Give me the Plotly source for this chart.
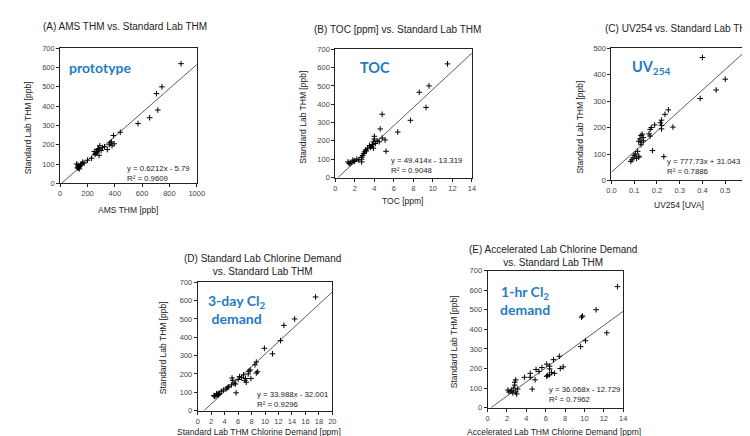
import plotly.graph_objects as go

W, H = 750, 436

# ---------------- data ----------------
# (A) AMS THM [ppb] vs Standard Lab THM [ppb]
a_x = [885, 745, 705, 715, 655, 570, 440, 390, 395, 375, 365, 360, 380, 345, 325, 310, 300, 290, 285, 275,
       270, 265, 260, 255, 250, 280, 230, 200, 175, 165, 150, 145, 140, 135, 130, 125, 120, 130, 140, 155]
a_y = [620, 500, 465, 380, 340, 310, 265, 248, 205, 215, 210, 200, 195, 175, 190, 185, 170, 195, 145, 175,
       165, 160, 155, 150, 165, 180, 130, 120, 105, 110, 95, 90, 85, 80, 85, 80, 100, 95, 75, 100]
a_fit = (0.6212, -5.79)

# (B) TOC [ppm]
b_x = [11.5, 9.6, 8.6, 9.3, 7.7, 6.4, 4.8, 4.6, 5.2, 5.1, 4.8, 4.0, 4.0, 4.3, 3.9, 3.8, 3.7, 3.6, 3.5, 3.9,
       4.1, 3.3, 3.1, 2.9, 3.0, 2.8, 2.7, 2.7, 2.7, 2.4, 2.2, 2.0, 1.8, 1.6, 1.5, 1.3, 1.4, 1.9, 3.2, 4.5]
b_y = [620, 500, 465, 382, 312, 248, 345, 265, 143, 205, 215, 225, 210, 200, 195, 180, 170, 165, 175, 160,
       185, 160, 150, 130, 140, 120, 110, 100, 85, 95, 100, 90, 95, 80, 75, 85, 78, 88, 145, 195]
b_fit = (49.414, -13.319)

# (C) UV254 [UVA]
c_x = [0.40, 0.50, 0.46, 0.39, 0.27, 0.25, 0.235, 0.23, 0.18, 0.215, 0.22, 0.22, 0.19, 0.175, 0.17, 0.165,
       0.14, 0.135, 0.13, 0.125, 0.12, 0.13, 0.13, 0.115, 0.105, 0.12, 0.11, 0.095, 0.09, 0.085, 0.12, 0.10,
       0.14, 0.22, 0.17]
c_y = [465, 383, 342, 310, 202, 267, 250, 90, 113, 218, 228, 195, 210, 200, 193, 176,
       162, 175, 170, 157, 148, 135, 145, 110, 100, 92, 83, 86, 78, 72, 88, 95,
       150, 208, 168]
c_fit = (777.73, 31.043)

# (D) Standard Lab THM Chlorine Demand [ppm]
d_x = [17.5, 14.4, 12.8, 12.3, 11.1, 9.9, 8.7, 8.5, 7.6, 7.8, 8.7, 8.9, 7.9, 7.0, 7.1, 7.2, 6.8, 6.5, 6.0, 5.7,
       5.1, 5.2, 5.4, 5.6, 5.0, 4.6, 4.2, 3.8, 3.5, 3.2, 3.0, 2.9, 2.7, 2.5, 2.4, 2.8, 3.1, 6.2, 7.5, 4.4]
d_y = [620, 500, 465, 382, 310, 340, 265, 250, 215, 222, 205, 212, 175, 165, 175, 155, 195, 180, 170, 97,
       178, 165, 150, 145, 140, 130, 118, 112, 105, 95, 90, 85, 80, 78, 82, 92, 88, 185, 200, 125]
d_fit = (33.988, -32.001)

# (E) Accelerated Lab THM Chlorine Demand [ppm]
e_x = [13.4, 11.2, 9.8, 9.7, 12.3, 10.1, 9.6, 7.4, 6.8, 7.8, 7.5, 6.9, 6.1, 6.4, 6.4, 6.2, 6.1, 6.4, 5.6, 5.0,
       4.4, 4.4, 4.9, 3.8, 4.6, 2.9, 2.8, 2.8, 2.7, 2.9, 2.4, 2.1, 2.2, 2.6, 3.0, 3.1, 2.5, 5.3, 6.6]
e_y = [618, 500, 468, 462, 382, 342, 312, 262, 245, 208, 200, 175, 222, 212, 198, 165, 160, 168, 205, 195,
       175, 155, 142, 155, 95, 142, 130, 115, 100, 80, 85, 90, 80, 75, 70, 95, 88, 185, 180]
e_fit = (36.068, -12.729)

panels = [
    dict(x=a_x, y=a_y, fit=a_fit, xr=[0, 1000], xd=200, yr=[0, 700], dx=(48, 187), dy=(37, 175), fmt=None),
    dict(x=b_x, y=b_y, fit=b_fit, xr=[0, 14], xd=2, yr=[0, 700], dx=(328, 467), dy=(38, 169), fmt=None),
    dict(x=c_x, y=c_y, fit=c_fit, xr=[0, 0.6], xd=0.1, yr=[0, 500], dx=(609, 748), dy=(37, 172), fmt=".1f"),
    dict(x=d_x, y=d_y, fit=d_fit, xr=[0, 20], xd=2, yr=[0, 700], dx=(188, 325), dy=(276, 407), fmt=None),
    dict(x=e_x, y=e_y, fit=e_fit, xr=[0, 14], xd=2, yr=[0, 700], dx=(483, 621), dy=(264, 404), fmt=None),
]

fig = go.Figure()
FONT = "Liberation Sans, Arial, sans-serif"
BLUE = "#1f7cc4"
layout = {}
for i, p in enumerate(panels):
    n = "" if i == 0 else str(i + 1)
    xa, ya = "x" + n, "y" + n
    m, b = p["fit"]
    x0 = max(p["xr"][0], (p["yr"][0] - b) / m)
    x1 = min(p["xr"][1], (p["yr"][1] - b) / m)
    fig.add_trace(go.Scatter(x=[x0, x1], y=[m * x0 + b, m * x1 + b], mode="lines",
                             line=dict(color="#333333", width=0.8), xaxis=xa, yaxis=ya,
                             showlegend=False, hoverinfo="skip"))
    fig.add_trace(go.Scatter(x=p["x"], y=p["y"], mode="markers",
                             marker=dict(symbol="cross-thin", size=4, line=dict(width=1, color="black")),
                             xaxis=xa, yaxis=ya, showlegend=False))
    common = dict(showgrid=False, zeroline=False, showline=True, linecolor="#222222", linewidth=1,
                  mirror=True, ticks="outside", ticklen=3, tickcolor="#222222",
                  tickfont=dict(family=FONT, size=7.5, color="#444444"))
    xax = dict(common, range=p["xr"], dtick=p["xd"], tick0=0,
               domain=[p["dx"][0] / W, p["dx"][1] / W], anchor=ya)
    if p["fmt"]:
        xax["tickformat"] = p["fmt"]
    layout["xaxis" + n] = xax
    layout["yaxis" + n] = dict(common, range=p["yr"], dtick=100, tick0=0,
                               domain=[1 - p["dy"][1] / H, 1 - p["dy"][0] / H], anchor=xa)

fig.update_layout(**layout)

ann = []


def txt(x, y, s, size=10, color="#222222", xanchor="center", angle=0, bold=False, family=FONT):
    ann.append(dict(x=x / W, y=1 - y / H, xref="paper", yref="paper", text=("<b>%s</b>" % s) if bold else s,
                    showarrow=False, xanchor=xanchor, yanchor="middle", textangle=angle,
                    font=dict(family=family, size=size, color=color)))


# titles
txt(114, 15, "(A) AMS THM vs. Standard Lab THM")
txt(391, 18, "(B) TOC [ppm] vs. Standard Lab THM")
txt(600, 17, "(C) UV254 vs. Standard Lab THM", xanchor="left")
txt(254, 258, "(D) Standard Lab Chlorine Demand<br>vs. Standard Lab THM")
txt(550, 249, "(E) Accelerated Lab Chlorine Demand<br>vs. Standard Lab THM")

# x-axis titles
txt(117, 202, "AMS THM [ppb]", size=8.5)
txt(396, 193, "TOC [ppm]", size=8.5)
txt(678, 197, "UV254 [UVA]", size=8.5)
txt(250, 429, "Standard Lab THM Chlorine Demand [ppm]", size=8.5)
txt(551, 429, "Accelerated Lab THM Chlorine Demand [ppm]", size=8.5)

# y-axis titles
txt(15, 118, "Standard Lab THM [ppb]", size=8.5, angle=-90)
txt(295, 107, "Standard Lab THM [ppb]", size=8.5, angle=-90)
txt(577, 117, "Standard Lab THM [ppb]", size=8.5, angle=-90)
txt(153, 343, "Standard Lab THM [ppb]", size=8.5, angle=-90)
txt(449, 337, "Standard Lab THM [ppb]", size=8.5, angle=-90)

# regression equations
eqs = [(114, 165, "y = 0.6212x - 5.79<br>R² = 0.9609"),
       (383, 157, "y = 49.414x - 13.319<br>R² = 0.9048"),
       (663, 158, "y = 777.73x + 31.043<br>R² = 0.7886"),
       (246, 396, "y = 33.988x - 32.001<br>R² = 0.9296"),
       (543, 391, "y = 36.068x - 12.729<br>R² = 0.7962")]
for x, y, s in eqs:
    ann.append(dict(x=x / W, y=1 - y / H, xref="paper", yref="paper", text=s, align="left",
                    showarrow=False, xanchor="left", yanchor="middle",
                    font=dict(family=FONT, size=7.8, color="#222222")))

# blue labels
BF = "Lato, Open Sans, sans-serif"
txt(89, 57, "prototype", size=14, color=BLUE, bold=True, family=BF)
txt(368, 57, "TOC", size=14.5, color=BLUE, bold=True, family=BF)
txt(650, 57, "UV<sub>254</sub>", size=14.5, color=BLUE, bold=True, family=BF)
ann.append(dict(x=227 / W, y=1 - 304 / H, xref="paper", yref="paper",
                text="<b>3-day Cl<sub>2</sub><br>demand</b>", showarrow=False,
                xanchor="center", yanchor="middle", font=dict(family=BF, size=14, color=BLUE)))
ann.append(dict(x=521 / W, y=1 - 295 / H, xref="paper", yref="paper",
                text="<b>1-hr Cl<sub>2</sub><br>demand</b>", showarrow=False,
                xanchor="center", yanchor="middle", font=dict(family=BF, size=14, color=BLUE)))

fig.update_layout(annotations=ann, width=W, height=H, margin=dict(l=0, r=0, t=0, b=0),
                  paper_bgcolor="white", plot_bgcolor="white")
fig.write_html("out.html")
